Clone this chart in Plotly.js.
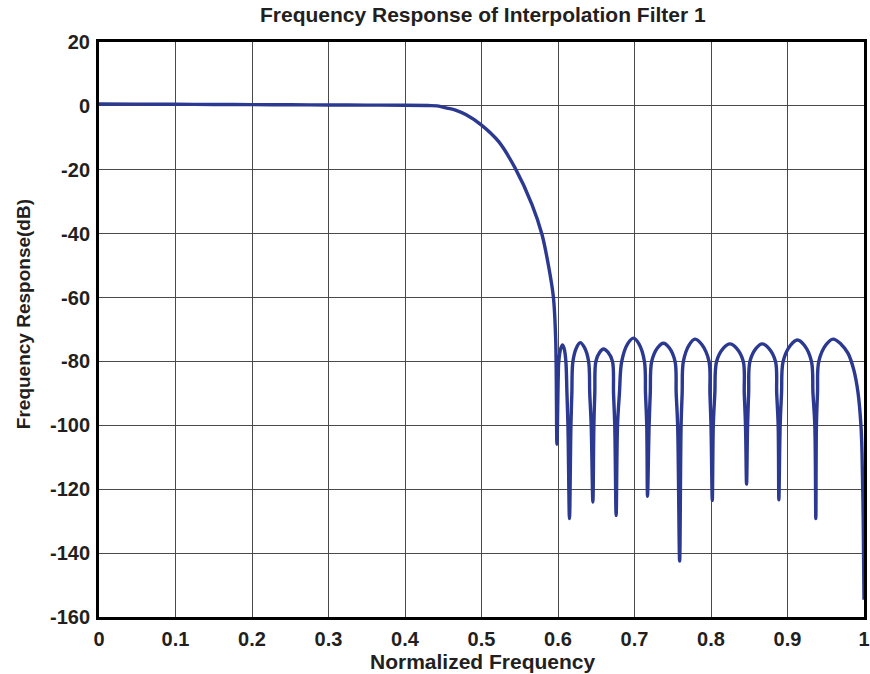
<!DOCTYPE html>
<html>
<head>
<meta charset="utf-8">
<script src="https://cdn.plot.ly/plotly-3.0.1.min.js"></script>
<style>
html,body{margin:0;padding:0;background:#fff;}
#chart{width:870px;height:674px;}
</style>
</head>
<body>
<div id="chart"></div>
<script>
// Normalized frequency samples
var freq = [
  0, 0.05, 0.1, 0.15, 0.2, 0.25, 0.3, 0.35, 0.4, 0.43, 0.442,
  0.455, 0.466, 0.48, 0.5, 0.5225, 0.544, 0.566, 0.579, 0.588, 0.594, 0.597,
  0.5986, 0.6003, 0.601, 0.6035, 0.606, 0.6083, 0.6103, 0.6117, 0.6130,
  0.615, 0.6169, 0.6181, 0.6195, 0.6243, 0.629, 0.6345, 0.640, 0.6415, 0.6434,
  0.6456, 0.6469, 0.6481, 0.6495, 0.6545, 0.6595, 0.6653, 0.6712, 0.6726, 0.6742,
  0.676, 0.6778, 0.6803, 0.6833, 0.691, 0.6987, 0.7058, 0.7130, 0.7144, 0.7160,
  0.717, 0.7191, 0.7206, 0.7225, 0.7302, 0.7378, 0.7454, 0.7530, 0.7545, 0.7564,
  0.759, 0.7609, 0.7623, 0.7639, 0.7715, 0.779, 0.7882, 0.7974, 0.7986, 0.8000,
  0.8017, 0.8030, 0.8050, 0.8073, 0.8160, 0.8248, 0.8335, 0.8422, 0.8435, 0.8451,
  0.8465, 0.8478, 0.8492, 0.8509, 0.8589, 0.8669, 0.8756, 0.8843, 0.8859, 0.8878,
  0.8887, 0.8904, 0.8922, 0.8943, 0.9037, 0.913, 0.9222, 0.9313, 0.9333, 0.9357,
  0.937, 0.9378, 0.9392, 0.9409, 0.9503, 0.9596, 0.970, 0.979, 0.9865, 0.9922, 0.9960, 0.9974, 0.9990, 1.0
];
// Magnitude response in dB
var responseDb = [
  0.6, 0.55, 0.5, 0.45, 0.4, 0.35, 0.3, 0.25, 0.2, 0.1, 0,
  -0.7, -1.3, -2.8, -6, -11.2, -19.5, -30.9, -40.2, -50.6, -59.9, -73.4,
  -105.9, -85, -80, -76, -74.8, -76.2, -80, -90, -100,
  -129.2, -100, -90, -80, -75.6, -74.1, -75.6, -80, -90, -100,
  -124, -100, -90, -80, -77.1, -76.1, -77.1, -80, -90, -100,
  -128.2, -100, -90, -80, -74.5, -72.7, -74.5, -80, -90, -100,
  -122.2, -100, -90, -80, -75.7, -74.3, -75.7, -80, -90, -100,
  -142.5, -100, -90, -80, -74.8, -73.0, -74.8, -80, -90, -100,
  -123.5, -100, -90, -80, -75.9, -74.5, -75.9, -80, -90, -100,
  -118.4, -100, -90, -80, -75.9, -74.5, -75.9, -80, -90, -100,
  -123.3, -100, -90, -80, -75.0, -73.3, -75.0, -80, -90, -100,
  -129.2, -100, -90, -80, -74.8, -73.0, -74.6, -77.4, -82.5, -89.8, -100, -108.5, -130, -154.6
];
var xTickVals = [0, 0.1, 0.2, 0.3, 0.4, 0.5, 0.6, 0.7, 0.8, 0.9, 1];
var xTickText = ['0', '0.1', '0.2', '0.3', '0.4', '0.5', '0.6', '0.7', '0.8', '0.9', '1'];
var yTickVals = [20, 0, -20, -40, -60, -80, -100, -120, -140, -160];
var yTickText = ['20', '0', '-20', '-40', '-60', '-80', '-100', '-120', '-140', '-160'];

var fontFam = 'Liberation Sans, Arial, Helvetica, sans-serif';
var textCol = '#231f20';

var trace = {
  x: freq,
  y: responseDb,
  type: 'scatter',
  mode: 'lines',
  line: {color: '#2b3990', width: 3.4, shape: 'spline', smoothing: 1},
  hoverinfo: 'x+y'
};

var layout = {
  width: 870,
  height: 674,
  margin: {l: 99, r: 6, t: 42, b: 57, pad: 0},
  paper_bgcolor: '#ffffff',
  plot_bgcolor: '#ffffff',
  showlegend: false,
  title: {
    text: '<b>Frequency Response of Interpolation Filter 1</b>',
    font: {family: fontFam, size: 21, color: textCol},
    x: 0.555, xanchor: 'center', y: 0.978, yanchor: 'middle'
  },
  xaxis: {
    range: [0, 1],
    tickvals: xTickVals,
    ticktext: xTickText,
    ticks: '',
    showgrid: true,
    gridcolor: '#4a4a4a',
    gridwidth: 1,
    zeroline: false,
    showline: true,
    linecolor: '#000000',
    linewidth: 3,
    mirror: true,
    tickfont: {family: fontFam, size: 20, color: textCol, weight: 'bold'},
    ticklabelstandoff: 2,
    ticklabeloverflow: 'allow'
  },
  yaxis: {
    range: [-160, 20],
    tickvals: yTickVals,
    ticktext: yTickText,
    ticks: '',
    showgrid: true,
    gridcolor: '#4a4a4a',
    gridwidth: 1,
    zeroline: false,
    showline: true,
    linecolor: '#000000',
    linewidth: 3,
    mirror: true,
    tickfont: {family: fontFam, size: 20, color: textCol, weight: 'bold'},
    ticklabelstandoff: 2,
    ticklabeloverflow: 'allow'
  },
  annotations: [
    {
      text: '<b>Normalized Frequency</b>',
      xref: 'paper', yref: 'paper', x: 0.5026, y: -0.077,
      xanchor: 'center', yanchor: 'middle', showarrow: false,
      font: {family: fontFam, size: 21, color: textCol}
    },
    {
      text: '<b>Frequency Response(dB)</b>',
      xref: 'paper', yref: 'paper', x: -0.0978, y: 0.527,
      xanchor: 'center', yanchor: 'middle', textangle: -90, showarrow: false,
      font: {family: fontFam, size: 19, color: textCol}
    }
  ]
};

Plotly.newPlot('chart', [trace], layout, {displayModeBar: false, staticPlot: true});
</script>
</body>
</html>
